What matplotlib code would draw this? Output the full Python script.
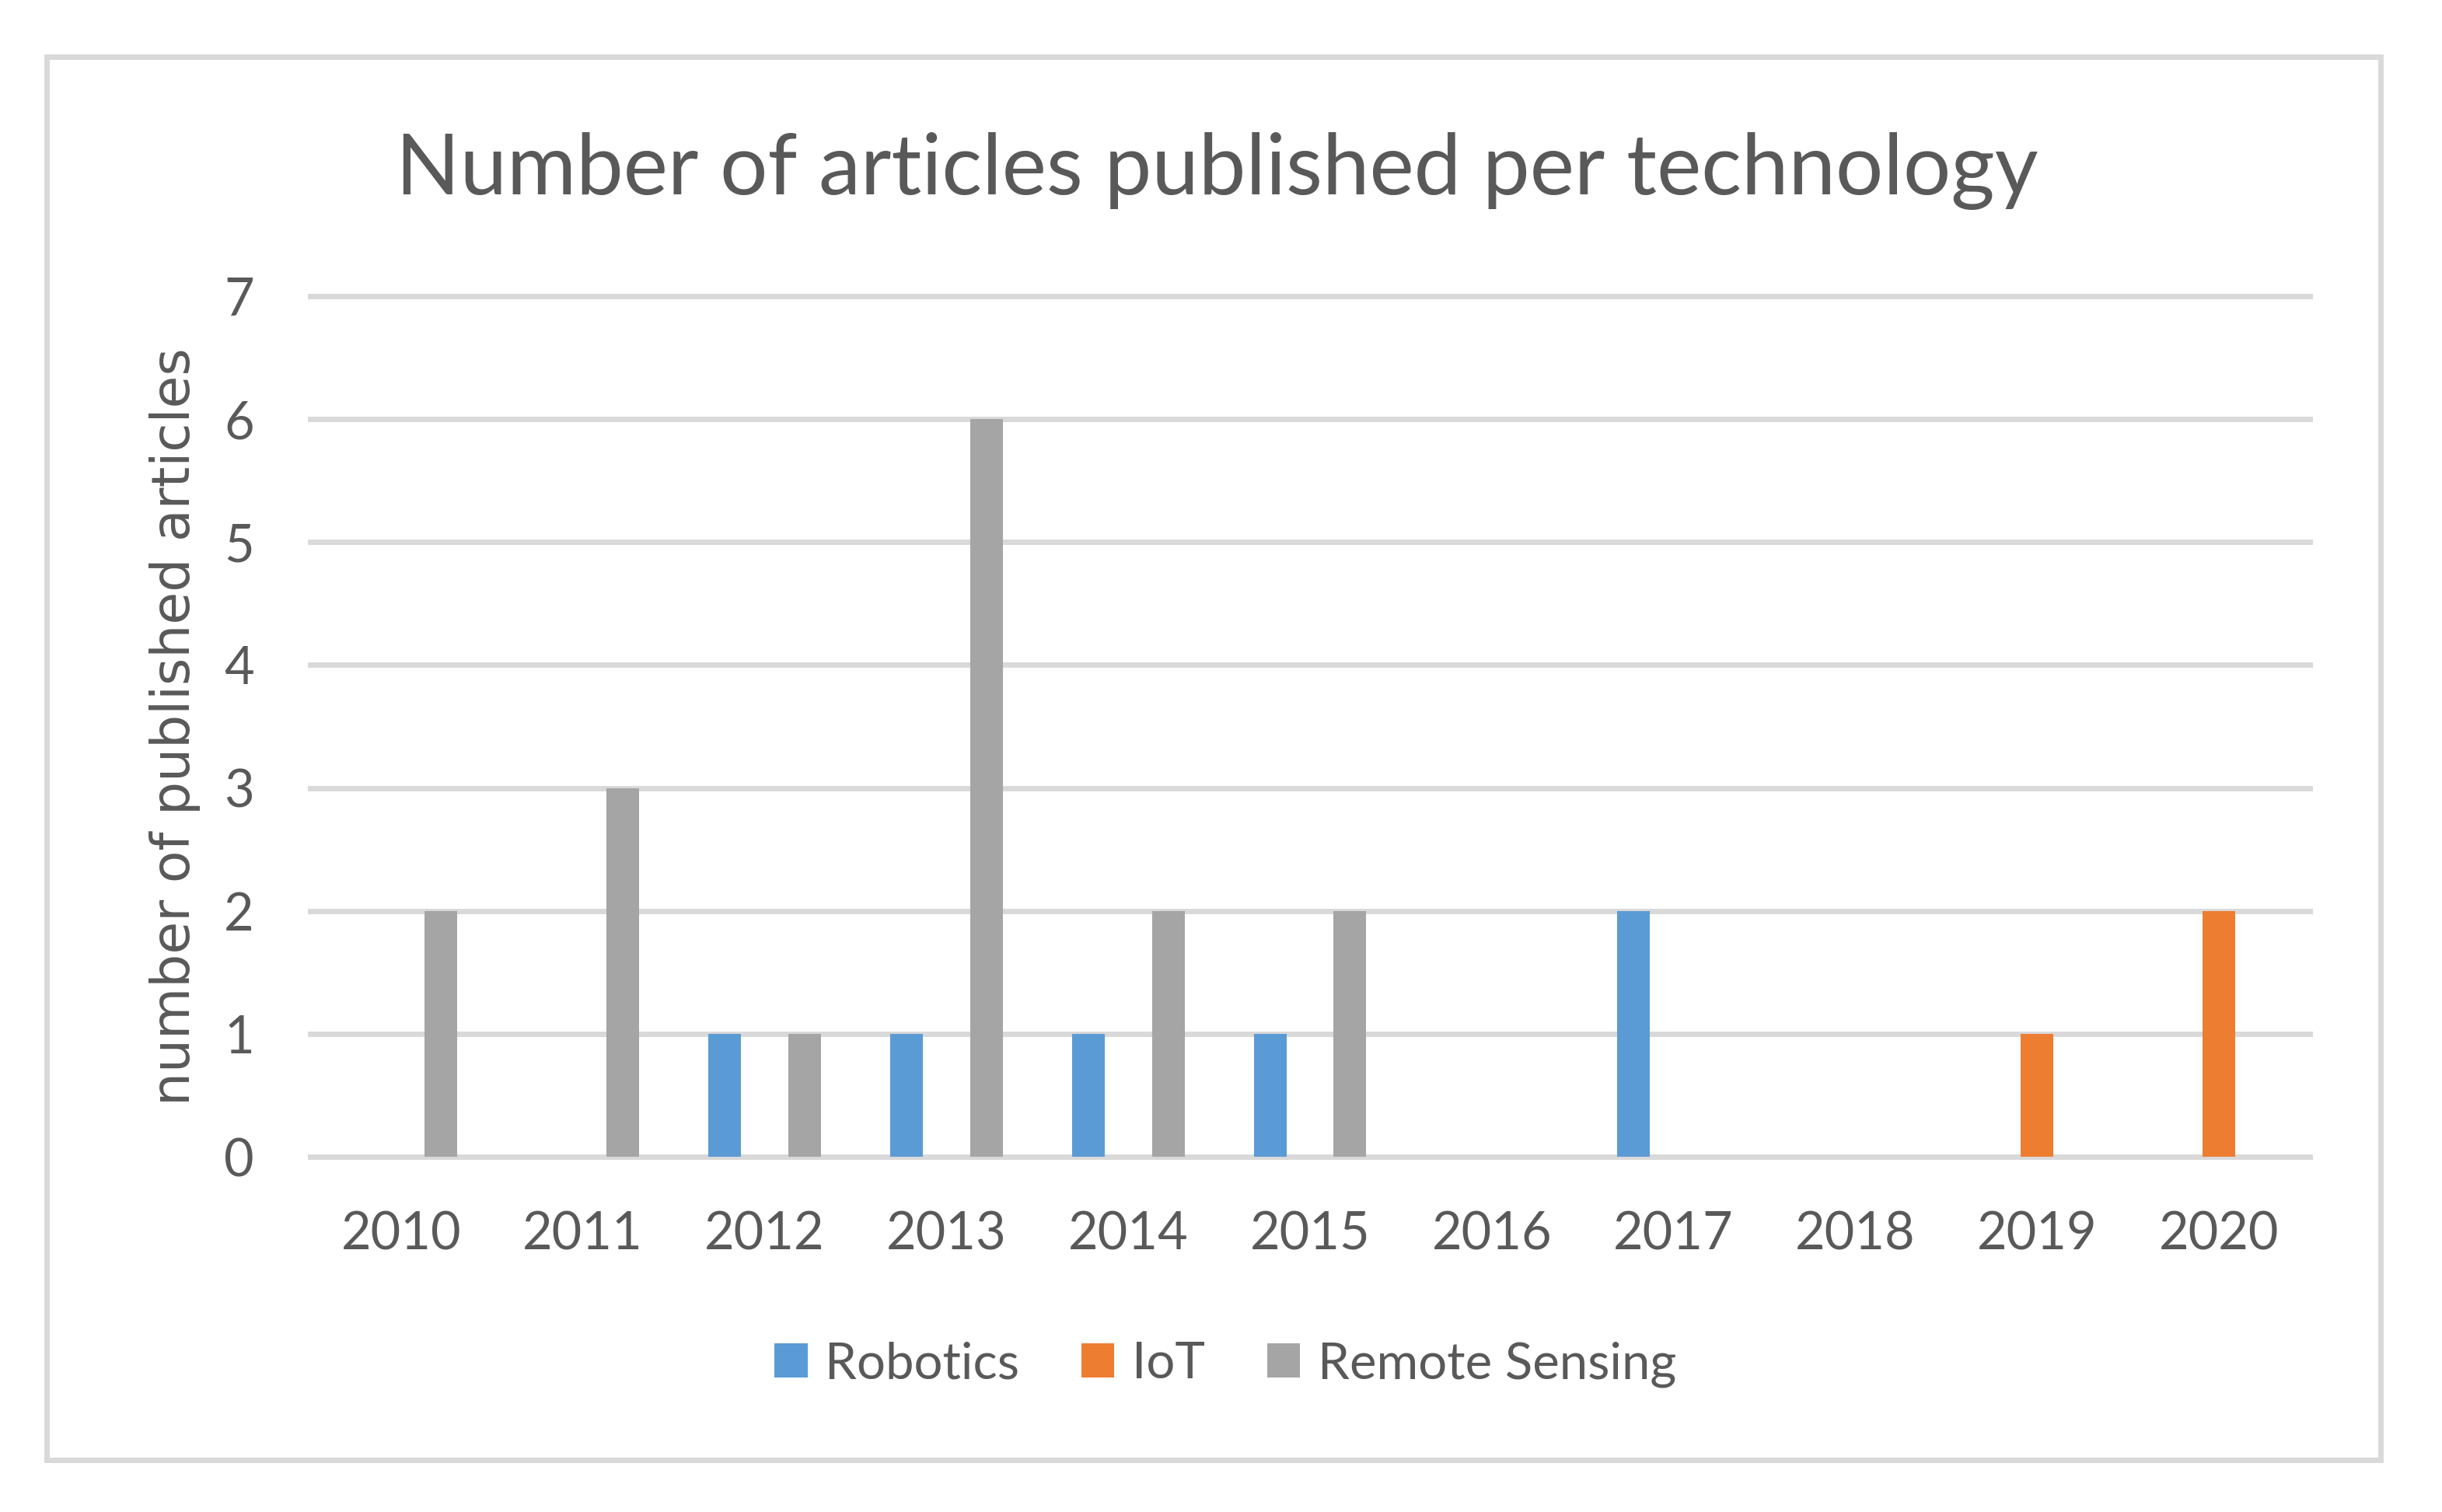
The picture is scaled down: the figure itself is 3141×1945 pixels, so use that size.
import matplotlib
matplotlib.use("Agg")
import matplotlib.pyplot as plt
from matplotlib.patches import Rectangle, Patch
import numpy as np

# data
years = ["2010", "2011", "2012", "2013", "2014", "2015", "2016", "2017", "2018", "2019", "2020"]
robotics = [0, 0, 1, 1, 1, 1, 0, 2, 0, 0, 0]
iot = [0, 0, 0, 0, 0, 0, 0, 0, 0, 1, 2]
remote_sensing = [2, 3, 1, 6, 2, 2, 0, 0, 0, 0, 0]
series_names = ["Robotics", "IoT", "Remote Sensing"]
colors = ["#5B9BD5", "#ED7D31", "#A5A5A5"]

text_col = "#595959"
grid_col = "#D9D9D9"
W, H, DPI = 3141, 1945, 200

plt.rcParams['font.family'] = ['Lato', 'DejaVu Sans']

fig = plt.figure(figsize=(W / DPI, H / DPI), dpi=DPI)
fig.patch.set_facecolor("white")

# outer chart border
fig.patches.append(Rectangle((60 / W, 1 - 1878 / H), (3062 - 60) / W, (1878 - 72.6) / H,
                             transform=fig.transFigure, fill=False,
                             edgecolor=grid_col, linewidth=2.5))

ax = fig.add_axes([399 / W, 1 - 1488 / H, (2971 - 399) / W, (1488 - 381) / H])

x = np.arange(len(years))
bw = 0.18
off = 0.22
for i, vals in enumerate([robotics, iot, remote_sensing]):
    ax.bar(x + (i - 1) * off, vals, width=bw, color=colors[i], zorder=3, linewidth=0)

for v in range(0, 8):
    ax.axhline(v, color=grid_col, linewidth=2.5, zorder=1, clip_on=False)

ax.set_xlim(-0.5, len(years) - 0.5)
ax.set_ylim(0, 7)
ax.set_xticks(x)
ax.set_xticklabels(years)
ax.set_yticks(range(0, 8))
ax.tick_params(axis="both", length=0, labelsize=24, labelcolor=text_col)
ax.tick_params(axis="x", pad=25)
ax.tick_params(axis="y", pad=26)
for s in ax.spines.values():
    s.set_visible(False)

ax.set_ylabel("number of published articles", fontsize=24.5, color=text_col,
              family="DejaVu Sans")
ax.yaxis.label.set_va("center")
ax.yaxis.set_label_coords((225 - 399) / (2971 - 399), 0.5)

fig.text(1565 / W, 1 - 250 / H, "Number of articles published per technology",
         ha="center", va="baseline", fontsize=39, color=text_col)

handles = [Patch(facecolor=c, edgecolor="none") for c in colors]
fig.legend(handles, series_names, loc="center", bbox_to_anchor=(1576 / W, 1 - 1755 / H),
           ncol=3, frameon=False, fontsize=23.5, labelcolor=text_col,
           handlelength=0.65, handleheight=0.66, handletextpad=0.34, columnspacing=1.23)

fig.savefig("out.png", dpi=DPI)
